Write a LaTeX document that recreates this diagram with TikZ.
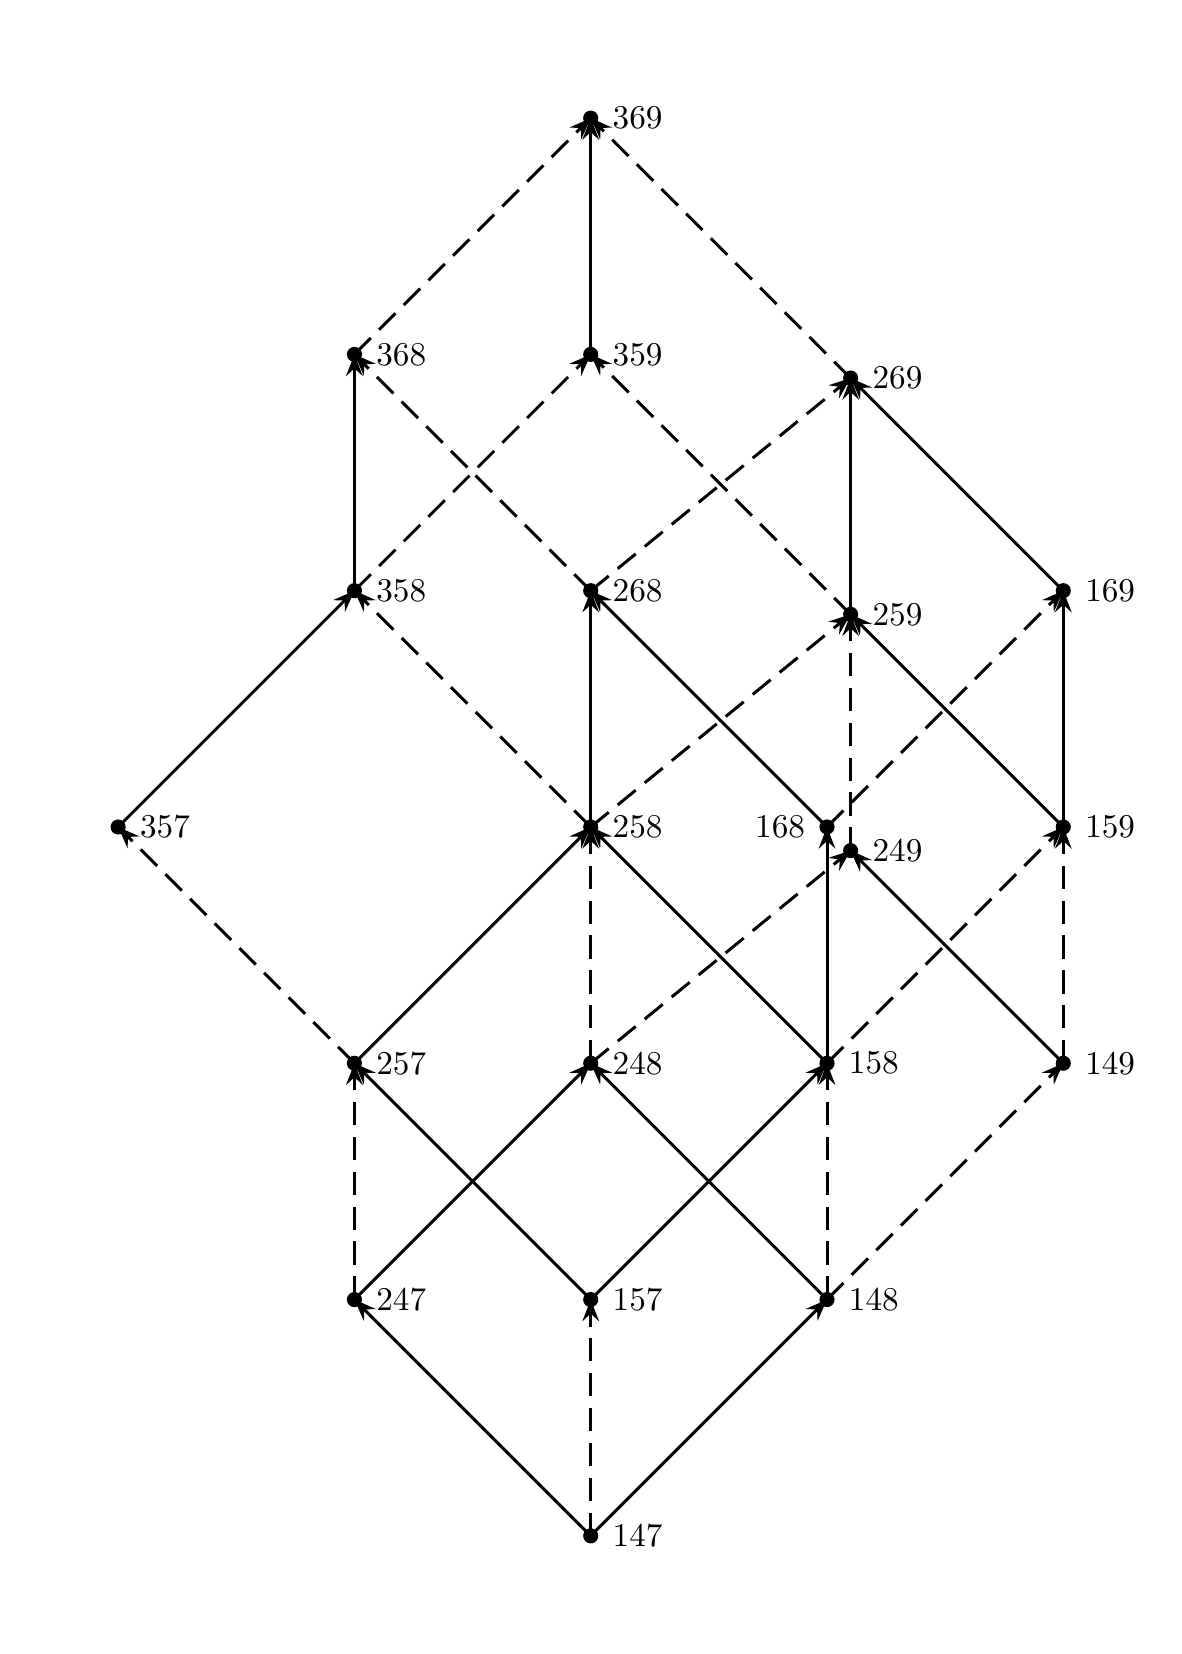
\documentclass[tikz,border=0pt]{standalone}
\usepackage{tikz}
\usetikzlibrary{arrows.meta,backgrounds}

\begin{document}
\begin{tikzpicture}[x=2.5cm,y=2.5cm,label distance=.6pt,pt/.style={circle,fill=black,inner sep=0pt,minimum size=1.6mm},up/.style={-{Stealth[length=6.5pt,width=5pt,inset=2.3pt]},line width=.9pt},dsh/.style={up,dash pattern=on 7pt off 3.5pt}]
    \useasboundingbox (-2.5,-0.5) rectangle (2.5,6.5);
    % points of the lattice
    \node[pt,label=right:147] (n147) at (0,0) {};
    \node[pt,label=right:247] (n247) at (-1,1) {};
    \node[pt,label=right:157] (n157) at (0,1) {};
    \node[pt,label=right:148] (n148) at (1,1) {};
    \node[pt,label=right:257] (n257) at (-1,2) {};
    \node[pt,label=right:248] (n248) at (0,2) {};
    \node[pt,label=right:158] (n158) at (1,2) {};
    \node[pt,label=right:149] (n149) at (2,2) {};
    \node[pt,label=right:357] (n357) at (-2,3) {};
    \node[pt,label=right:258] (n258) at (0,3) {};
    \node[pt,label=left:168] (n168) at (1,3) {};
    \node[pt,label=right:249] (n249) at (1.1,2.9) {};
    \node[pt,label=right:159] (n159) at (2,3) {};
    \node[pt,label=right:358] (n358) at (-1,4) {};
    \node[pt,label=right:268] (n268) at (0,4) {};
    \node[pt,label=right:259] (n259) at (1.1,3.9) {};
    \node[pt,label=right:169] (n169) at (2,4) {};
    \node[pt,label=right:368] (n368) at (-1,5) {};
    \node[pt,label=right:359] (n359) at (0,5) {};
    \node[pt,label=right:269] (n269) at (1.1,4.9) {};
    \node[pt,label=right:369] (n369) at (0,6) {};
    \begin{scope}[on background layer]
    \foreach \a/\b in {147/247,147/148,247/248,157/257,157/158,148/248,257/258,158/258,158/168,149/249,357/358,258/268,168/268,159/259,159/169,358/368,259/269,169/269,359/369}
      \draw[up] (n\a.center) -- (n\b.center);
    \foreach \a/\b in {147/157,247/257,148/158,148/149,257/357,248/258,248/249,158/159,149/159,258/358,258/259,168/169,249/259,358/359,268/368,268/269,259/359,368/369,269/369}
      \draw[dsh] (n\a.center) -- (n\b.center);
    \end{scope}
  \end{tikzpicture}
\end{document}
